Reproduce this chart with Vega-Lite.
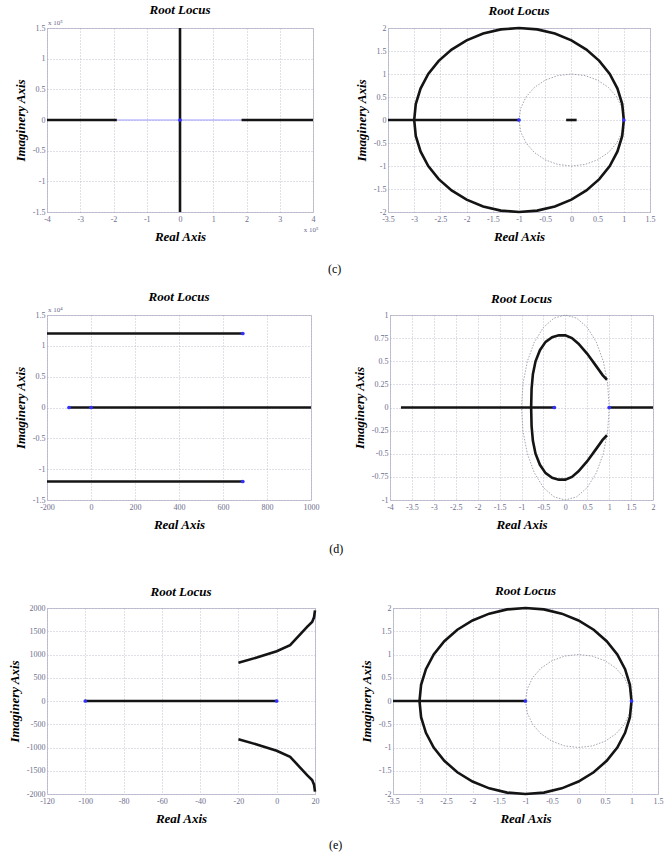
{
 "$schema": "https://vega.github.io/schema/vega-lite/v6.json",
 "background": "white",
 "padding": {"left": 7, "top": 3, "right": 2, "bottom": 2},
 "datasets": {
  "circR2": [
   {"o":0,"x":1,"y":0},{"o":1,"x":0.970,"y":0.347},{"o":2,"x":0.879,"y":0.684},{"o":3,"x":0.732,"y":1.0},{"o":4,"x":0.532,"y":1.286},{"o":5,"x":0.286,"y":1.532},{"o":6,"x":0.0,"y":1.732},{"o":7,"x":-0.316,"y":1.879},{"o":8,"x":-0.653,"y":1.970},{"o":9,"x":-1,"y":2},
   {"o":10,"x":-1.347,"y":1.970},{"o":11,"x":-1.684,"y":1.879},{"o":12,"x":-2.0,"y":1.732},{"o":13,"x":-2.286,"y":1.532},{"o":14,"x":-2.532,"y":1.286},{"o":15,"x":-2.732,"y":1.0},{"o":16,"x":-2.879,"y":0.684},{"o":17,"x":-2.970,"y":0.347},{"o":18,"x":-3,"y":0},
   {"o":19,"x":-2.970,"y":-0.347},{"o":20,"x":-2.879,"y":-0.684},{"o":21,"x":-2.732,"y":-1.0},{"o":22,"x":-2.532,"y":-1.286},{"o":23,"x":-2.286,"y":-1.532},{"o":24,"x":-2.0,"y":-1.732},{"o":25,"x":-1.684,"y":-1.879},{"o":26,"x":-1.347,"y":-1.970},{"o":27,"x":-1,"y":-2},
   {"o":28,"x":-0.653,"y":-1.970},{"o":29,"x":-0.316,"y":-1.879},{"o":30,"x":0.0,"y":-1.732},{"o":31,"x":0.286,"y":-1.532},{"o":32,"x":0.532,"y":-1.286},{"o":33,"x":0.732,"y":-1.0},{"o":34,"x":0.879,"y":-0.684},{"o":35,"x":0.970,"y":-0.347},{"o":36,"x":1,"y":0}
  ],
  "unit": [
   {"o":0,"x":1,"y":0},{"o":1,"x":0.966,"y":0.259},{"o":2,"x":0.866,"y":0.5},{"o":3,"x":0.707,"y":0.707},{"o":4,"x":0.5,"y":0.866},{"o":5,"x":0.259,"y":0.966},{"o":6,"x":0,"y":1},
   {"o":7,"x":-0.259,"y":0.966},{"o":8,"x":-0.5,"y":0.866},{"o":9,"x":-0.707,"y":0.707},{"o":10,"x":-0.866,"y":0.5},{"o":11,"x":-0.966,"y":0.259},{"o":12,"x":-1,"y":0},
   {"o":13,"x":-0.966,"y":-0.259},{"o":14,"x":-0.866,"y":-0.5},{"o":15,"x":-0.707,"y":-0.707},{"o":16,"x":-0.5,"y":-0.866},{"o":17,"x":-0.259,"y":-0.966},{"o":18,"x":0,"y":-1},
   {"o":19,"x":0.259,"y":-0.966},{"o":20,"x":0.5,"y":-0.866},{"o":21,"x":0.707,"y":-0.707},{"o":22,"x":0.866,"y":-0.5},{"o":23,"x":0.966,"y":-0.259},{"o":24,"x":1,"y":0}
  ],
  "c1Locus": [
   {"s":"a","o":0,"x":-4,"y":0},{"s":"a","o":1,"x":-1.9,"y":0},
   {"s":"b","o":0,"x":1.85,"y":0},{"s":"b","o":1,"x":4,"y":0},
   {"s":"c","o":0,"x":0,"y":-1.5},{"s":"c","o":1,"x":0,"y":1.5}
  ],
  "c1Axis": [{"o":0,"x":-1.9,"y":0},{"o":1,"x":1.85,"y":0}],
  "c1Poles": [{"x":0,"y":0}],
  "c2Lines": [
   {"s":"a","o":0,"x":-3.5,"y":0},{"s":"a","o":1,"x":-1,"y":0},
   {"s":"b","o":0,"x":-0.1,"y":0},{"s":"b","o":1,"x":0.1,"y":0}
  ],
  "c2Poles": [{"x":-1,"y":0},{"x":1,"y":0}],
  "d1Locus": [
   {"s":"a","o":0,"x":-200,"y":1.2},{"s":"a","o":1,"x":690,"y":1.2},
   {"s":"b","o":0,"x":-200,"y":-1.2},{"s":"b","o":1,"x":690,"y":-1.2},
   {"s":"c","o":0,"x":-100,"y":0},{"s":"c","o":1,"x":1000,"y":0}
  ],
  "d1Poles": [{"x":-100,"y":0},{"x":0,"y":0},{"x":690,"y":1.2},{"x":690,"y":-1.2}],
  "d2Locus": [
   {"s":"up","o":0,"x":0.95,"y":0.30},{"s":"up","o":1,"x":0.85,"y":0.35},{"s":"up","o":2,"x":0.7,"y":0.45},{"s":"up","o":3,"x":0.5,"y":0.58},{"s":"up","o":4,"x":0.3,"y":0.69},{"s":"up","o":5,"x":0.15,"y":0.75},{"s":"up","o":6,"x":0,"y":0.78},{"s":"up","o":7,"x":-0.15,"y":0.78},{"s":"up","o":8,"x":-0.3,"y":0.76},{"s":"up","o":9,"x":-0.45,"y":0.71},{"s":"up","o":10,"x":-0.58,"y":0.62},{"s":"up","o":11,"x":-0.68,"y":0.5},{"s":"up","o":12,"x":-0.74,"y":0.36},{"s":"up","o":13,"x":-0.77,"y":0.2},{"s":"up","o":14,"x":-0.78,"y":0},
   {"s":"dn","o":0,"x":0.95,"y":-0.30},{"s":"dn","o":1,"x":0.85,"y":-0.35},{"s":"dn","o":2,"x":0.7,"y":-0.45},{"s":"dn","o":3,"x":0.5,"y":-0.58},{"s":"dn","o":4,"x":0.3,"y":-0.69},{"s":"dn","o":5,"x":0.15,"y":-0.75},{"s":"dn","o":6,"x":0,"y":-0.78},{"s":"dn","o":7,"x":-0.15,"y":-0.78},{"s":"dn","o":8,"x":-0.3,"y":-0.76},{"s":"dn","o":9,"x":-0.45,"y":-0.71},{"s":"dn","o":10,"x":-0.58,"y":-0.62},{"s":"dn","o":11,"x":-0.68,"y":-0.5},{"s":"dn","o":12,"x":-0.74,"y":-0.36},{"s":"dn","o":13,"x":-0.77,"y":-0.2},{"s":"dn","o":14,"x":-0.78,"y":0},
   {"s":"l1","o":0,"x":-3.75,"y":0},{"s":"l1","o":1,"x":-0.25,"y":0},
   {"s":"l2","o":0,"x":1,"y":0},{"s":"l2","o":1,"x":2,"y":0}
  ],
  "d2Poles": [{"x":-0.25,"y":0},{"x":1,"y":0}],
  "e1Locus": [
   {"s":"l","o":0,"x":-100,"y":0},{"s":"l","o":1,"x":0,"y":0},
   {"s":"up","o":0,"x":-20,"y":820},{"s":"up","o":1,"x":-10,"y":940},{"s":"up","o":2,"x":0,"y":1070},{"s":"up","o":3,"x":7,"y":1200},{"s":"up","o":4,"x":12,"y":1420},{"s":"up","o":5,"x":16,"y":1600},{"s":"up","o":6,"x":18.5,"y":1700},{"s":"up","o":7,"x":19.5,"y":1800},{"s":"up","o":8,"x":20,"y":1950},
   {"s":"dn","o":0,"x":-20,"y":-820},{"s":"dn","o":1,"x":-10,"y":-940},{"s":"dn","o":2,"x":0,"y":-1070},{"s":"dn","o":3,"x":7,"y":-1200},{"s":"dn","o":4,"x":12,"y":-1420},{"s":"dn","o":5,"x":16,"y":-1600},{"s":"dn","o":6,"x":18.5,"y":-1700},{"s":"dn","o":7,"x":19.5,"y":-1800},{"s":"dn","o":8,"x":20,"y":-1950}
  ],
  "e1Poles": [{"x":-100,"y":0},{"x":0,"y":0}],
  "e2Lines": [{"s":"a","o":0,"x":-3.5,"y":0},{"s":"a","o":1,"x":-1,"y":0}],
  "e2Poles": [{"x":-1,"y":0},{"x":1,"y":0}]
 },
 "columns": 1,
 "align": "none",
 "spacing": 29,
 "concat": [
  {
   "spacing": 15,
   "vconcat": [
    {
     "spacing": 35,
     "title": {"text": "(c)", "orient": "bottom", "anchor": "middle", "frame": "bounds", "fontStyle": "normal", "fontWeight": "normal", "fontSize": 12, "offset": 20},
     "hconcat": [
      {
       "width": 266, "height": 184, "title": {"text": "Root Locus", "offset": 2},
       "encoding": {
        "x": {"field": "x", "type": "quantitative", "scale": {"domain": [-4, 4], "nice": false, "zero": false}, "axis": {"title": "Real Axis", "values": [-4,-3,-2,-1,0,1,2,3,4], "labelExpr": "'' + datum.value"}},
        "y": {"field": "y", "type": "quantitative", "scale": {"domain": [-1.5, 1.5], "nice": false, "zero": false}, "axis": {"title": "Imaginery Axis", "values": [-1.5,-1,-0.5,0,0.5,1,1.5], "labelExpr": "'' + datum.value"}}
       },
       "layer": [
        {"data": {"name": "c1Axis"}, "mark": {"type": "line", "color": "#9a9aff", "strokeWidth": 1}, "encoding": {"order": {"field": "o"}}},
        {"data": {"name": "c1Locus"}, "mark": {"type": "line", "color": "#141414", "strokeWidth": 2.6}, "encoding": {"detail": {"field": "s"}, "order": {"field": "o"}}},
        {"data": {"name": "c1Poles"}, "mark": {"type": "point", "filled": true, "color": "#3030ff", "size": 14, "opacity": 1}},
        {"data": {"name": "c1Poles"}, "mark": {"type": "text", "font": "Liberation Serif", "fontSize": 7, "color": "#6e6e8e", "align": "center", "baseline": "top", "dy": 14, "dx": -2}, "encoding": {"x": {"datum": 4}, "y": {"datum": -1.5}, "text": {"value": "x 10⁵"}}},
        {"data": {"name": "c1Poles"}, "mark": {"type": "text", "font": "Liberation Serif", "fontSize": 7, "color": "#6e6e8e", "align": "left", "baseline": "bottom", "dy": -2, "dx": 1}, "encoding": {"x": {"datum": -4}, "y": {"datum": 1.5}, "text": {"value": "x 10⁵"}}}
       ]
      },
      {
       "width": 262, "height": 184, "title": "Root Locus",
       "encoding": {
        "x": {"field": "x", "type": "quantitative", "scale": {"domain": [-3.5, 1.5], "nice": false, "zero": false}, "axis": {"title": "Real Axis", "values": [-3.5,-3,-2.5,-2,-1.5,-1,-0.5,0,0.5,1,1.5], "labelExpr": "'' + datum.value"}},
        "y": {"field": "y", "type": "quantitative", "scale": {"domain": [-2, 2], "nice": false, "zero": false}, "axis": {"title": "Imaginery Axis", "values": [-2,-1.5,-1,-0.5,0,0.5,1,1.5,2], "labelExpr": "'' + datum.value"}}
       },
       "layer": [
        {"data": {"name": "unit"}, "mark": {"type": "line", "color": "#8c8c9c", "strokeWidth": 0.8, "strokeDash": [1.5, 1.5]}, "encoding": {"order": {"field": "o"}}},
        {"data": {"name": "circR2"}, "mark": {"type": "line", "color": "#141414", "strokeWidth": 2.6}, "encoding": {"order": {"field": "o"}}},
        {"data": {"name": "c2Lines"}, "mark": {"type": "line", "color": "#141414", "strokeWidth": 2.6}, "encoding": {"detail": {"field": "s"}, "order": {"field": "o"}}},
        {"data": {"name": "c2Poles"}, "mark": {"type": "point", "filled": true, "color": "#3030ff", "size": 14, "opacity": 1}}
       ]
      }
     ]
    },
    {
     "spacing": 32,
     "title": {"text": "(d)", "orient": "bottom", "anchor": "middle", "frame": "bounds", "fontStyle": "normal", "fontWeight": "normal", "fontSize": 12, "offset": 12},
     "hconcat": [
      {
       "width": 264, "height": 185, "title": {"text": "Root Locus", "offset": 2},
       "encoding": {
        "x": {"field": "x", "type": "quantitative", "scale": {"domain": [-200, 1000], "nice": false, "zero": false}, "axis": {"title": "Real Axis", "values": [-200,0,200,400,600,800,1000], "labelExpr": "'' + datum.value"}},
        "y": {"field": "y", "type": "quantitative", "scale": {"domain": [-1.5, 1.5], "nice": false, "zero": false}, "axis": {"title": "Imaginery Axis", "values": [-1.5,-1,-0.5,0,0.5,1,1.5], "labelExpr": "'' + datum.value"}}
       },
       "layer": [
        {"data": {"name": "d1Locus"}, "mark": {"type": "line", "color": "#141414", "strokeWidth": 2.6}, "encoding": {"detail": {"field": "s"}, "order": {"field": "o"}}},
        {"data": {"name": "d1Poles"}, "mark": {"type": "point", "filled": true, "color": "#3030ff", "size": 14, "opacity": 1}},
        {"data": {"name": "c1Poles"}, "mark": {"type": "text", "font": "Liberation Serif", "fontSize": 7, "color": "#6e6e8e", "align": "left", "baseline": "bottom", "dy": -2, "dx": 1}, "encoding": {"x": {"datum": -200}, "y": {"datum": 1.5}, "text": {"value": "x 10⁴"}}}
       ]
      },
      {
       "width": 263, "height": 185, "title": "Root Locus",
       "encoding": {
        "x": {"field": "x", "type": "quantitative", "scale": {"domain": [-4, 2], "nice": false, "zero": false}, "axis": {"title": "Real Axis", "values": [-4,-3.5,-3,-2.5,-2,-1.5,-1,-0.5,0,0.5,1,1.5,2], "labelExpr": "'' + datum.value"}},
        "y": {"field": "y", "type": "quantitative", "scale": {"domain": [-1, 1], "nice": false, "zero": false}, "axis": {"title": "Imaginery Axis", "values": [-1,-0.75,-0.5,-0.25,0,0.25,0.5,0.75,1], "labelExpr": "'' + datum.value"}}
       },
       "layer": [
        {"data": {"name": "unit"}, "mark": {"type": "line", "color": "#8c8c9c", "strokeWidth": 0.8, "strokeDash": [1.5, 1.5]}, "encoding": {"order": {"field": "o"}}},
        {"data": {"name": "d2Locus"}, "mark": {"type": "line", "color": "#141414", "strokeWidth": 2.6}, "encoding": {"detail": {"field": "s"}, "order": {"field": "o"}}},
        {"data": {"name": "d2Poles"}, "mark": {"type": "point", "filled": true, "color": "#3030ff", "size": 14, "opacity": 1}}
       ]
      }
     ]
    }
   ]
  },
  {
   "spacing": 38,
   "title": {"text": "(e)", "orient": "bottom", "anchor": "middle", "frame": "bounds", "fontStyle": "normal", "fontWeight": "normal", "fontSize": 12, "offset": 14},
   "hconcat": [
    {
     "width": 268, "height": 186, "title": "Root Locus",
     "encoding": {
      "x": {"field": "x", "type": "quantitative", "scale": {"domain": [-120, 20], "nice": false, "zero": false}, "axis": {"title": "Real Axis", "values": [-120,-100,-80,-60,-40,-20,0,20], "labelExpr": "'' + datum.value"}},
      "y": {"field": "y", "type": "quantitative", "scale": {"domain": [-2000, 2000], "nice": false, "zero": false}, "axis": {"title": "Imaginery Axis", "values": [-2000,-1500,-1000,-500,0,500,1000,1500,2000], "labelExpr": "'' + datum.value"}}
     },
     "layer": [
      {"data": {"name": "e1Locus"}, "mark": {"type": "line", "color": "#141414", "strokeWidth": 2.6}, "encoding": {"detail": {"field": "s"}, "order": {"field": "o"}}},
      {"data": {"name": "e1Poles"}, "mark": {"type": "point", "filled": true, "color": "#3030ff", "size": 14, "opacity": 1}}
     ]
    },
    {
     "width": 265, "height": 186, "title": "Root Locus",
     "encoding": {
      "x": {"field": "x", "type": "quantitative", "scale": {"domain": [-3.5, 1.5], "nice": false, "zero": false}, "axis": {"title": "Real Axis", "values": [-3.5,-3,-2.5,-2,-1.5,-1,-0.5,0,0.5,1,1.5], "labelExpr": "'' + datum.value"}},
      "y": {"field": "y", "type": "quantitative", "scale": {"domain": [-2, 2], "nice": false, "zero": false}, "axis": {"title": "Imaginery Axis", "values": [-2,-1.5,-1,-0.5,0,0.5,1,1.5,2], "labelExpr": "'' + datum.value"}}
     },
     "layer": [
      {"data": {"name": "unit"}, "mark": {"type": "line", "color": "#8c8c9c", "strokeWidth": 0.8, "strokeDash": [1.5, 1.5]}, "encoding": {"order": {"field": "o"}}},
      {"data": {"name": "circR2"}, "mark": {"type": "line", "color": "#141414", "strokeWidth": 2.6}, "encoding": {"order": {"field": "o"}}},
      {"data": {"name": "e2Lines"}, "mark": {"type": "line", "color": "#141414", "strokeWidth": 2.6}, "encoding": {"detail": {"field": "s"}, "order": {"field": "o"}}},
      {"data": {"name": "e2Poles"}, "mark": {"type": "point", "filled": true, "color": "#3030ff", "size": 14, "opacity": 1}}
     ]
    }
   ]
  }
 ],
 "config": {
  "view": {"stroke": "#c5c5d8", "strokeWidth": 1},
  "axis": {"labelFont": "Liberation Serif", "labelFontSize": 8, "labelColor": "#6e6e8e", "titleFont": "Liberation Serif", "titleFontSize": 13, "titleFontStyle": "italic", "titleFontWeight": "bold", "titleColor": "#000000", "grid": true, "gridColor": "#a8a8b8", "gridDash": [1, 2], "gridWidth": 0.7, "domain": false, "ticks": false, "labelOverlap": false, "labelFlush": false, "labelBound": false},
  "axisX": {"labelPadding": 3, "titlePadding": 7},
  "axisY": {"labelPadding": 2, "titlePadding": 5},
  "title": {"font": "Liberation Serif", "fontSize": 13, "fontStyle": "italic", "fontWeight": "bold", "color": "#000000", "offset": 5, "frame": "group"}
 }
}
